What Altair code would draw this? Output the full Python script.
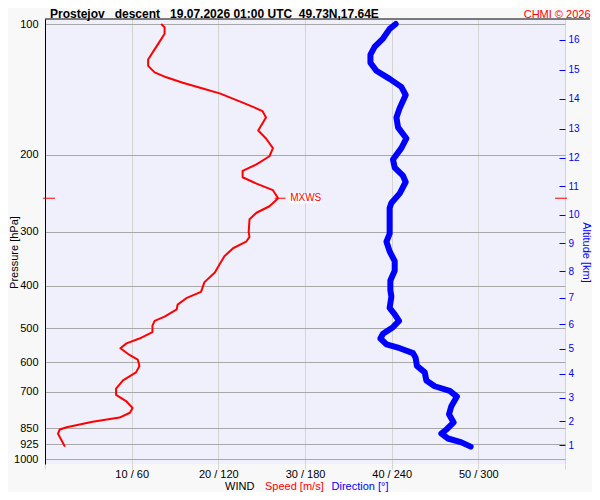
import altair as alt
import pandas as pd

# ---- data ----
speed_p = [100, 101.7, 105.3, 110.8, 115.6, 120.7, 124.8, 129.2, 132.6, 136.5, 140.7, 144.4,
           150.6, 155.1, 158.6, 164.1, 175.7, 183.3, 192.9, 201.4, 210.2, 217.6, 225.1, 232.8,
           241.0, 251.5, 262.4, 271.6, 281.1, 300.9, 308.7, 316.6, 327.7, 342.0, 356.8, 372.5,
           392.1, 412.7, 426.9, 441.8, 453.2, 470.5, 481.2, 493.7, 510.7, 528.5, 542.3, 556.4,
           573.7, 590.7, 611.0, 632.3, 659.8, 688.8, 712.5, 737.4, 763.1, 782.9, 803.1, 821.0,
           845.4, 855.4, 874.5, 936.5]
speed = [13.4, 13.8, 13.8, 13.1, 12.5, 11.9, 11.9, 12.65, 14.0, 15.9, 18.2, 20.15,
         22.46, 24.0, 25.1, 25.5, 24.6, 25.5, 26.3, 25.9, 24.4, 22.8, 22.8, 24.4,
         26.3, 26.9, 25.9, 24.4, 23.6, 23.5, 23.6, 23.2, 21.7, 20.7, 20.15, 19.6,
         18.4, 18.0, 16.3, 15.3, 15.2, 13.8, 12.65, 12.4, 12.4, 10.9, 9.4, 8.7,
         9.6, 10.7, 10.9, 10.5, 9.0, 8.2, 8.2, 9.4, 10.1, 9.8, 8.6, 5.5,
         2.5, 1.7, 1.5, 2.3]

dir_p = [100, 102.6, 108.0, 112.7, 117.6, 122.7, 128.1, 133.7, 139.5, 145.6, 155.9, 164.1,
         172.8, 183.3, 192.9, 204.8, 213.8, 223.2, 230.8, 245.1, 258.0, 264.7, 303.5, 316.6,
         333.3, 350.8, 369.3, 388.7, 409.2, 423.3, 449.3, 465.0, 481.2, 497.7, 515.2, 528.5,
         545.0, 556.4, 570.8, 585.6, 611.0, 632.3, 659.8, 680.4, 697.0, 718.7, 756.3, 789.1,
         824.0, 855.4, 874.5, 897.2, 915.7, 936.5]
direction = [242.8, 238.6, 234.0, 228.3, 225.3, 225.3, 229.4, 238.6, 246.7, 249.7, 245.6, 243.3,
             244.4, 250.2, 246.7, 240.9, 242.1, 247.8, 249.7, 245.6, 239.8, 238.6, 238.6, 236.4,
             238.6, 242.1, 242.1, 239.1, 239.1, 239.8, 238.6, 242.1, 245.1, 240.9, 234.0, 232.2,
             236.4, 245.6, 254.8, 256.6, 257.5, 262.9, 264.0, 269.8, 280.2, 285.2, 281.3, 279.7,
             282.9, 277.9, 274.4, 279.0, 288.3, 294.7]

pressure_ticks = [100, 200, 300, 400, 500, 600, 700, 850, 925, 1000]
speed_ticks = [0, 10, 20, 30, 40, 50, 60]
alt_km = list(range(1, 17))
alt_p = [908.1, 801.3, 710.1, 626.8, 551.3, 485.3, 423.3, 369.3, 319.4, 275.3,
         237.7, 204.8, 176.3, 150.9, 129.9, 111.2]

mxws_p = [251.5]
mxws_s = [26.9]

title_text = "Prostejov\u00a0\u00a0\u00a0descent\u00a0\u00a0\u00a019.07.2026 01:00 UTC\u00a0\u00a049.73N,17.64E"
copyright_text = "CHMI \u00a9 2026"

RED = "#ff0000"
BLUE = "#0000ff"
FONT = "Liberation Sans"

speed_df = pd.DataFrame({"p": speed_p, "s": speed})
dir_df = pd.DataFrame({"p": dir_p, "d": direction})
alt_df = pd.DataFrame({"p": alt_p, "km": alt_km})
mx_df = pd.DataFrame({"p": mxws_p, "s": mxws_s})

xs = alt.Scale(domain=[0, 60], nice=False, zero=False)
ys = alt.Scale(type="log", domain=[100, 1000], reverse=True, nice=False)

x_axis = alt.Axis(
    values=speed_ticks,
    labelExpr="(datum.value == 0 || datum.value == 60) ? '' : datum.value + ' / ' + (datum.value * 6)",
    title=None, domain=False, tickColor="#d4d4d4", tickSize=5, gridColor="#d4d4d4",
    gridOpacity=1, labelFontSize=11, labelColor="black", labelPadding=-0.5,
    labelFlush=False, labelOverlap=False, labelFont=FONT,
)
y_axis = alt.Axis(
    values=pressure_ticks, format="d", title="Pressure [hPa]", titleFontSize=11,
    titleFontWeight="normal", titleColor="black", titleAngle=270, titleX=-31, titleY=233,
    titleAlign="center", titleBaseline="middle", titleFont=FONT,
    labelFontSize=11, labelColor="black", labelPadding=7, ticks=False, tickSize=0,
    domainColor="black", domainWidth=1, gridColor="#a8a8a8", gridWidth=1, gridOpacity=1,
    labelFlush=False, labelOverlap=False, labelFont=FONT,
)

X = lambda f: alt.X(f, scale=xs, axis=x_axis)
Y = lambda f: alt.Y(f, scale=ys, axis=y_axis)

red_line = alt.Chart(speed_df).mark_line(
    color=RED, strokeWidth=2, strokeJoin="round"
).encode(x=X("s:Q"), y=Y("p:Q"), order="p:Q")

blue_line = alt.Chart(dir_df).transform_calculate(
    xs="datum.d / 6"
).mark_line(
    color=BLUE, strokeWidth=6, strokeJoin="round", strokeCap="round"
).encode(x=X("xs:Q"), y=Y("p:Q"), order="p:Q")

mx_left = alt.Chart(mx_df).mark_rule(color=RED, strokeWidth=1).encode(
    y=Y("p:Q"), x=alt.value(-2), x2=alt.value(10)
)
mx_right = alt.Chart(mx_df).mark_rule(color=RED, strokeWidth=1).encode(
    y=Y("p:Q"), x=alt.value(510), x2=alt.value(522)
)
mx_mid = alt.Chart(mx_df).transform_calculate(
    a="datum.s - 0.4", b="datum.s + 0.85"
).mark_rule(color=RED, strokeWidth=1).encode(y=Y("p:Q"), x=X("a:Q"), x2="b:Q")
mx_box = alt.Chart(mx_df).transform_calculate(
    a="datum.s + 1.2", b="datum.s + 4.95"
).mark_bar(color="#ffffff", height=10).encode(y=Y("p:Q"), x=X("a:Q"), x2="b:Q")
mx_text = alt.Chart(mx_df).mark_text(
    color=RED, fontSize=10, align="left", baseline="middle", dx=12, font=FONT
).encode(y=Y("p:Q"), x=X("s:Q"), text=alt.value("MXWS"))

top_rule = alt.Chart(mx_df).mark_rule(color="black", strokeWidth=1).encode(
    x=alt.value(0), x2=alt.value(545), y=alt.value(0)
)

def label(txt, x, y, color="black", size=11, weight="normal", align="left"):
    return alt.Chart(pd.DataFrame({"t": [txt]})).mark_text(
        color=color, fontSize=size, fontWeight=weight, align=align,
        baseline="alphabetic", font=FONT
    ).encode(text="t:N", x=alt.value(x), y=alt.value(y))

title = label(title_text, 5, -1.5, size=12, weight="bold")
copyr = label(copyright_text, 545.5, -1.5, color=RED, size=11, align="right")
wind = label("WIND", 180, 471)
spd = label("Speed [m/s]", 220, 471, color=RED)
drc = label("Direction [\u00b0]", 286.5, 471, color=BLUE)

main = alt.layer(red_line, blue_line, mx_left, mx_right, mx_mid, mx_box, mx_text,
                 top_rule, title, copyr, wind, spd, drc)

right_axis = alt.Axis(
    orient="right", values=alt_p,
    labelExpr="[" + ",".join(str(k) for k in alt_km) + "][indexof([" +
              ",".join(str(p) for p in alt_p) + "], datum.value)]",
    offset=-6, tickSize=6, tickColor=BLUE, tickWidth=1, domain=False, grid=False,
    labelColor=BLUE, labelFontSize=10, labelPadding=3, labelFont=FONT,
    title="Altitude [km]", titleColor=BLUE, titleFontSize=11, titleFontWeight="normal",
    titleAngle=90, titleX=26.5, titleY=233, titleAlign="center", titleBaseline="middle",
    titleFont=FONT, labelFlush=False, labelOverlap=False,
)
alt_layer = alt.Chart(alt_df).mark_point(opacity=0).encode(
    y=alt.Y("p:Q", scale=alt.Scale(type="log", domain=[100, 1000], reverse=True, nice=False),
            axis=right_axis)
)

chart = alt.layer(main, alt_layer).resolve_scale(y="independent").properties(
    width=520, height=445,
    autosize=alt.AutoSizeParams(type="none"),
    padding={"left": 37, "top": 11, "right": 27, "bottom": 28},
).configure(
    background="#f8f8f8", font=FONT
).configure_view(
    fill="#f0f0fc", stroke=None
)

chart.save("out.html", embed_options={"renderer": "svg", "actions": False})
